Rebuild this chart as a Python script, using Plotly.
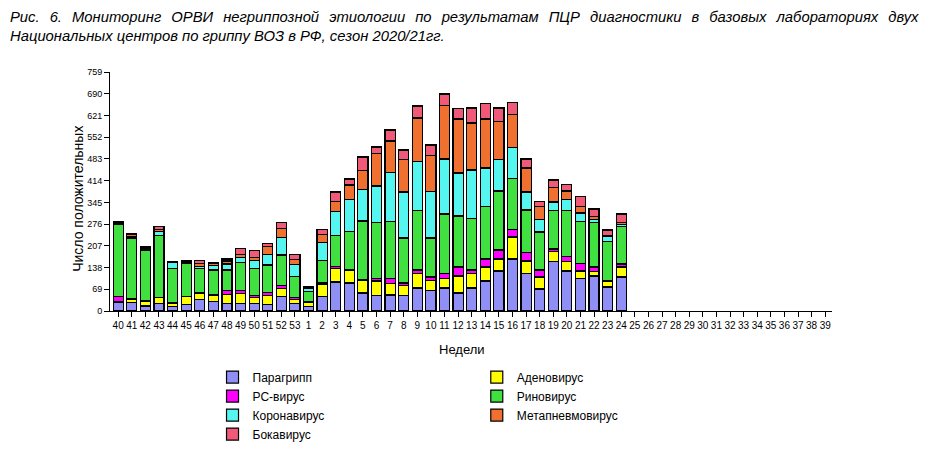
"""Stacked bars: non-influenza ARVI monitoring by PCR, season 2020/21."""

import plotly.graph_objects as go

WEEKS = [str(w) for w in range(40, 54)] + [str(w) for w in range(1, 40)]

# values per week, weeks 40..53 then 1..24 (25..39 have no data yet)
PARAFLU = [26, 26, 16, 25, 15, 21, 36, 30, 24, 24, 24, 21, 45, 25,
           15, 47, 92, 89, 57, 48, 51, 48, 73, 64, 73, 57, 73, 95, 127, 165,
           118, 70, 156, 127, 102, 111, 76, 108]
ADENO = [5, 12, 16, 17, 10, 25, 20, 19, 28, 31, 18, 28, 26, 11,
         12, 39, 42, 40, 40, 47, 37, 34, 45, 34, 29, 54, 45, 45, 38, 70,
         41, 38, 32, 30, 25, 15, 19, 32]
RSV = [15, 2, 1, 2, 3, 1, 3, 2, 14, 9, 7, 10, 9, 8,
       2, 5, 8, 2, 3, 7, 16, 7, 12, 10, 16, 29, 12, 25, 29, 25,
       28, 22, 9, 15, 25, 14, 0, 9]
RHINO = [230, 192, 159, 196, 108, 105, 76, 79, 64, 91, 87, 87, 98, 65,
         33, 69, 97, 122, 186, 178, 179, 143, 188, 124, 190, 162, 165, 168, 187, 162,
         134, 121, 122, 146, 131, 140, 126, 120]
CORONA = [2, 3, 2, 13, 19, 2, 6, 15, 19, 15, 25, 34, 56, 38,
          9, 57, 78, 100, 101, 117, 158, 146, 158, 148, 175, 136, 153, 121, 99, 96,
          57, 40, 27, 35, 28, 11, 16, 6]
METAPNEUMO = [2, 8, 5, 7, 0, 3, 9, 6, 10, 10, 10, 26, 29, 16,
              3, 25, 32, 47, 58, 102, 99, 102, 137, 114, 170, 172, 149, 156, 123, 105,
              76, 42, 45, 28, 22, 8, 4, 7]
BOCA = [3, 4, 4, 9, 1, 2, 11, 4, 6, 19, 21, 9, 17, 17,
        5, 18, 29, 19, 44, 22, 35, 31, 38, 33, 36, 32, 48, 49, 42, 38,
        29, 16, 25, 22, 30, 25, 16, 26]

# stacking order bottom -> top
SERIES = [
    ("Парагрипп", PARAFLU, "#8f8ff5", "legend", 1),
    ("Аденовирус", ADENO, "#ffff00", "legend2", 1),
    ("РС-вирус", RSV, "#ff00ff", "legend", 2),
    ("Риновирус", RHINO, "#40e040", "legend2", 2),
    ("Коронавирус", CORONA, "#55f5f0", "legend", 3),
    ("Метапневмовирус", METAPNEUMO, "#f07030", "legend2", 3),
    ("Бокавирус", BOCA, "#f05a78", "legend", 4),
]

Y_TICKS = [0, 69, 138, 207, 276, 345, 414, 483, 552, 621, 690, 759]

FONT = "Liberation Sans, Arial, sans-serif"

TITLE_LINE1 = ("Рис. 6. Мониторинг ОРВИ негриппозной этиологии по результатам ПЦР "
               "диагностики в базовых лабораториях двух")
TITLE_LINE2 = "Национальных центров по гриппу ВОЗ в РФ, сезон 2020/21гг."
# imitate the justified first line of the source figure
TITLE = TITLE_LINE1.replace(" ", " \u2009\u2009") + "<br>" + TITLE_LINE2

fig = go.Figure()
for name, values, color, legend, rank in SERIES:
    fig.add_trace(
        go.Bar(
            name=name,
            x=WEEKS[: len(values)],
            y=values,
            marker=dict(color=color, line=dict(color="#000000", width=1.2)),
            legend=legend,
            legendrank=rank,
        )
    )

# the page body adds an 8px offset, so the figure is 8px smaller than the window
fig.update_layout(
    barmode="stack",
    bargap=0.26,
    width=925,
    height=442,
    paper_bgcolor="white",
    plot_bgcolor="white",
    font=dict(family=FONT, color="#000000"),
    margin=dict(l=102, r=101, t=64, b=139, autoexpand=False),
    showlegend=True,
    legend=dict(
        x=0.142, y=-0.216, xanchor="left", yanchor="top",
        font=dict(size=12), tracegroupgap=0, itemwidth=30,
        traceorder="normal",
    ),
    legend2=dict(
        x=0.508, y=-0.216, xanchor="left", yanchor="top",
        font=dict(size=12), tracegroupgap=0, itemwidth=30,
        traceorder="normal",
    ),
    xaxis=dict(
        type="category",
        categoryorder="array",
        categoryarray=WEEKS,
        range=[-0.6, 52.5],
        showline=True, linecolor="#000000", linewidth=1,
        ticks="outside", ticklen=5, tickcolor="#000000",
        tickfont=dict(size=10),
        tickangle=0,
        showgrid=False,
    ),
    yaxis=dict(
        range=[0, 759],
        tickvals=Y_TICKS,
        showline=True, linecolor="#000000", linewidth=1,
        ticks="outside", ticklen=5, tickcolor="#000000",
        tickfont=dict(size=9),
        showgrid=False, zeroline=False,
    ),
)

fig.add_annotation(
    text=TITLE,
    xref="paper", yref="paper", x=-0.141, y=1.272,
    xanchor="left", yanchor="top", align="left", showarrow=False,
    font=dict(family="Liberation Sans Narrow, Arial Narrow, " + FONT, size=14.8,
              style="italic"),
)
fig.add_annotation(
    text="Число положительных",
    xref="paper", yref="paper", x=-0.058, y=0.47,
    textangle=-90, showarrow=False, font=dict(size=14),
)
fig.add_annotation(
    text="Недели",
    xref="paper", yref="paper", x=0.488, y=-0.2,
    showarrow=False, font=dict(size=13),
)

fig.write_html("out.html")
